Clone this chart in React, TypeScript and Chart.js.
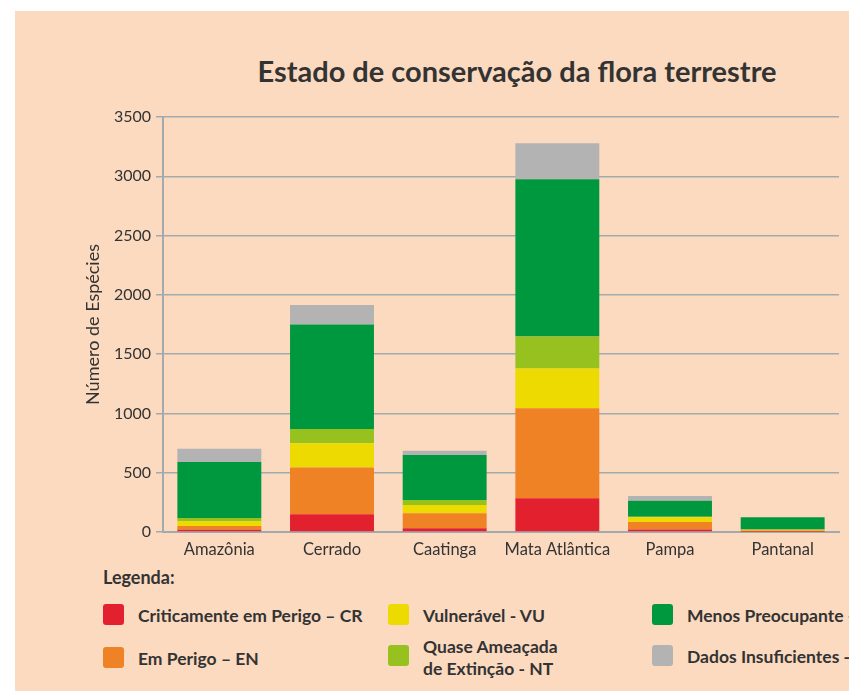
import React, { useEffect, useRef } from "react";
import { Chart, registerables } from "chart.js";

Chart.register(...registerables);

const categories = ["Amazônia", "Cerrado", "Caatinga", "Mata Atlântica", "Pampa", "Pantanal"];
const seriesNames = [
  "Criticamente em Perigo – CR",
  "Em Perigo – EN",
  "Vulnerável - VU",
  "Quase Ameaçada de Extinção - NT",
  "Menos Preocupante - LC",
  "Dados Insuficientes - DD",
];
const criticamente = [20, 149, 31, 284, 22, 2];
const emPerigo = [30, 396, 127, 760, 62, 10];
const vulneravel = [40, 203, 70, 334, 40, 8];
const quaseAmeacada = [28, 121, 42, 270, 5, 2];
const menosPreocupante = [472, 882, 379, 1328, 135, 102];
const dadosInsuficientes = [113, 163, 37, 303, 40, 0];
const yMin = 0;
const yMax = 3500;
const yStep = 500;

const colors = ["#e3202e", "#ee8225", "#ecda00", "#97c11f", "#00983f", "#b3b3b3"];
const TXT = "#333333";
const GRID = "#a3aaae";
const BG = "#fbdac0";

export default function App() {
  const ref = useRef<HTMLCanvasElement | null>(null);

  useEffect(() => {
    if (!ref.current) return;
    const values = [criticamente, emPerigo, vulneravel, quaseAmeacada, menosPreocupante, dadosInsuficientes];
    const chart = new Chart(ref.current, {
      type: "bar",
      data: {
        labels: categories,
        datasets: values.map((v, i) => ({
          label: seriesNames[i],
          data: v,
          backgroundColor: colors[i],
          borderWidth: 0,
          barPercentage: 0.745,
          categoryPercentage: 1,
        })),
      },
      options: {
        responsive: false,
        animation: false,
        devicePixelRatio: 1,
        layout: { padding: { top: 117, right: 10, left: 0, bottom: 0 } },
        plugins: { legend: { display: false }, title: { display: false }, tooltip: { enabled: false } },
        scales: {
          x: {
            stacked: true,
            grid: { display: false, drawTicks: false },
            border: { display: true, color: GRID, width: 2 },
            ticks: { color: TXT, font: { family: "Lato", size: 16.5 }, padding: 8 },
            afterFit: (s: any) => {
              s.height = 30;
            },
          },
          y: {
            stacked: true,
            min: yMin,
            max: yMax,
            ticks: {
              stepSize: yStep,
              color: TXT,
              font: { family: "Lato", size: 16 },
              padding: 5,
              callback: (v: any) => String(v),
            },
            grid: { color: GRID, lineWidth: 1.5, tickLength: 7, drawTicks: true },
            border: { display: true, color: GRID, width: 2 },
            title: {
              display: true,
              text: "Número de Espécies",
              color: TXT,
              font: { family: "Lato", size: 18 },
              padding: { top: 82, bottom: 0 },
            },
            afterFit: (s: any) => {
              s.width = 163;
            },
          },
        },
      },
    });
    return () => chart.destroy();
  }, []);

  const legendItems = [
    { c: 0, x: 103, y: 604, lines: ["Criticamente em Perigo – CR"] },
    { c: 2, x: 388, y: 604, lines: ["Vulnerável - VU"] },
    { c: 4, x: 652, y: 604, lines: ["Menos Preocupante - LC"] },
    { c: 1, x: 103, y: 647, lines: ["Em Perigo – EN"] },
    { c: 3, x: 388, y: 645, lines: ["Quase Ameaçada", "de Extinção - NT"] },
    { c: 5, x: 652, y: 645, lines: ["Dados Insuficientes - DD"] },
  ];

  return (
    <div style={{ position: "fixed", left: 0, top: 0, width: 849, height: 691, overflow: "hidden", background: "#ffffff", fontFamily: "Lato" }}>
      <div style={{ position: "absolute", left: 15, top: 11, width: 834, height: 680, background: BG }} />
      <div
        style={{
          position: "absolute",
          left: 517,
          top: 51,
          transform: "translateX(-50%)",
          whiteSpace: "nowrap",
          fontWeight: 700,
          fontSize: 29,
          color: TXT,
          lineHeight: "40px",
        }}
      >
        Estado de conservação da flora terrestre
      </div>
      <canvas ref={ref} width={849} height={562} style={{ position: "absolute", left: 0, top: 0 }} />
      <div style={{ position: "absolute", left: 103, top: 566, fontWeight: 700, fontSize: 18, color: TXT, lineHeight: "22px" }}>
        Legenda:
      </div>
      {legendItems.map((it, i) => (
        <React.Fragment key={i}>
          <div
            style={{
              position: "absolute",
              left: it.x,
              top: it.y,
              width: 21,
              height: 21,
              borderRadius: 3,
              background: colors[it.c],
            }}
          />
          <div
            style={{
              position: "absolute",
              left: it.x + 35,
              top: it.lines.length > 1 ? it.y - 9 : it.y + 1,
              fontWeight: 700,
              fontSize: 17.5,
              color: TXT,
              lineHeight: "22px",
              whiteSpace: "nowrap",
            }}
          >
            {it.lines.map((l, j) => (
              <div key={j}>{l}</div>
            ))}
          </div>
        </React.Fragment>
      ))}
    </div>
  );
}
